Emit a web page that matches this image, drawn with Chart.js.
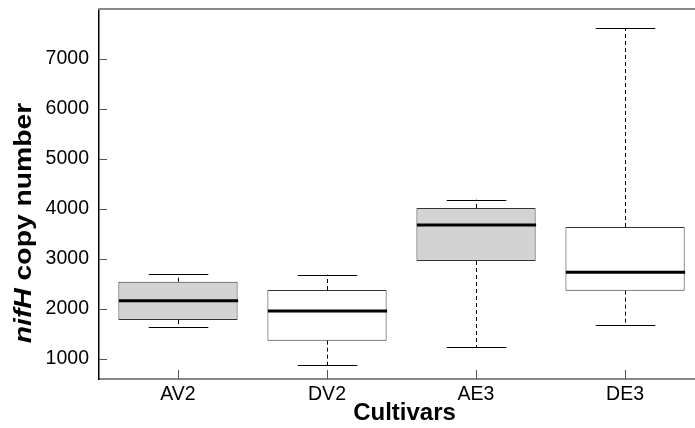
<!DOCTYPE html>
<html>
<head>
<meta charset="utf-8">
<script src="https://cdn.jsdelivr.net/npm/chart.js@4"></script>
<style>
  html, body { margin: 0; padding: 0; background: #fff; overflow: hidden; }
  #wrap { width: 695px; height: 428px; overflow: hidden; }
</style>
</head>
<body>
<div id="wrap"><canvas id="boxChart" width="710" height="428"></canvas></div>
<script>
// nifH copy number per cultivar (box plot summary)
const cultivars   = ['AV2', 'DV2', 'AE3', 'DE3'];
const whiskerLow  = [1634, 873, 1233, 1687];
const q1          = [1780, 1367, 2960, 2367];
const median      = [2166, 1960, 3680, 2733];
const q3          = [2546, 2380, 4020, 3640];
const whiskerHigh = [2694, 2687, 4187, 7614];
const boxFill     = ['#d3d3d3', '#ffffff', '#d3d3d3', '#ffffff'];
const yTicks      = [1000, 2000, 3000, 4000, 5000, 6000, 7000];

Chart.defaults.font.family = '"Liberation Sans", Arial, sans-serif';
Chart.defaults.color = '#000';

// whiskers, caps and medians drawn on top of the floating bars
const boxParts = {
  id: 'boxParts',
  afterDatasetsDraw(chart) {
    const { ctx, scales: { x, y } } = chart;
    const unit = x.getPixelForValue(2) - x.getPixelForValue(1);
    const capHalf = unit * 0.2;
    const boxHalf = unit * 0.4;
    ctx.save();
    ctx.strokeStyle = '#000';
    for (let i = 0; i < cultivars.length; i++) {
      const cx = Math.round(x.getPixelForValue(i + 1)) + 0.5;
      ctx.lineWidth = 1;
      ctx.setLineDash([4, 3]);
      ctx.beginPath();
      ctx.moveTo(cx, y.getPixelForValue(q3[i]));
      ctx.lineTo(cx, y.getPixelForValue(whiskerHigh[i]));
      ctx.moveTo(cx, y.getPixelForValue(q1[i]));
      ctx.lineTo(cx, y.getPixelForValue(whiskerLow[i]));
      ctx.stroke();

      ctx.setLineDash([]);
      ctx.beginPath();
      const hi = Math.round(y.getPixelForValue(whiskerHigh[i])) + 0.5;
      const lo = Math.round(y.getPixelForValue(whiskerLow[i])) + 0.5;
      ctx.moveTo(cx - capHalf, hi); ctx.lineTo(cx + capHalf, hi);
      ctx.moveTo(cx - capHalf, lo); ctx.lineTo(cx + capHalf, lo);
      ctx.stroke();

      ctx.lineWidth = 3;
      ctx.beginPath();
      const my = y.getPixelForValue(median[i]);
      ctx.moveTo(cx - boxHalf, my); ctx.lineTo(cx + boxHalf, my);
      ctx.stroke();
    }
    ctx.restore();
  }
};

// top frame line, inward tick marks and the mixed-style y title
const frame = {
  id: 'frame',
  afterDraw(chart) {
    const { ctx, chartArea: a, scales: { x, y } } = chart;
    ctx.save();
    ctx.strokeStyle = '#888';
    ctx.lineWidth = 2;
    ctx.beginPath();
    ctx.moveTo(a.left - 1, a.top);
    ctx.lineTo(a.right, a.top);
    ctx.stroke();

    ctx.strokeStyle = '#555';
    ctx.lineWidth = 1;
    ctx.beginPath();
    y.ticks.forEach(t => {
      const py = Math.round(y.getPixelForValue(t.value)) + 0.5;
      ctx.moveTo(a.left, py); ctx.lineTo(a.left + 8, py);
    });
    x.ticks.forEach(t => {
      const px = Math.round(x.getPixelForValue(t.value)) + 0.5;
      ctx.moveTo(px, a.bottom); ctx.lineTo(px, a.bottom - 9);
    });
    ctx.stroke();

    const fam = '"Liberation Sans", Arial, sans-serif';
    const partA = 'nifH', partB = ' copy number';
    ctx.translate(25, 223);
    ctx.rotate(-Math.PI / 2);
    ctx.scale(1.23, 1);
    ctx.fillStyle = '#000';
    ctx.textBaseline = 'middle';
    ctx.font = 'italic bold 23px ' + fam;
    const wA = ctx.measureText(partA).width;
    ctx.font = 'bold 23px ' + fam;
    const wB = ctx.measureText(partB).width;
    const sx = -(wA + wB) / 2;
    ctx.font = 'italic bold 23px ' + fam;
    ctx.fillText(partA, sx, 0);
    ctx.font = 'bold 23px ' + fam;
    ctx.fillText(partB, sx + wA, 0);
    ctx.restore();
  }
};

new Chart(document.getElementById('boxChart'), {
  type: 'bar',
  data: {
    datasets: [{
      data: cultivars.map((c, i) => ({ x: i + 1, y: [q1[i], q3[i]] })),
      backgroundColor: boxFill,
      borderColor: '#333',
      borderWidth: 1,
      borderSkipped: false,
      barPercentage: 0.8,
      categoryPercentage: 1
    }]
  },
  options: {
    responsive: false,
    animation: false,
    layout: { padding: { top: 9, left: 0, right: 0, bottom: 0 } },
    plugins: { legend: { display: false }, tooltip: { enabled: false } },
    scales: {
      x: {
        type: 'linear',
        offset: false,
        min: 0.47,
        max: 4.57,
        afterBuildTicks: s => { s.ticks = cultivars.map((c, i) => ({ value: i + 1 })); },
        afterFit: s => { s.height = 49; s.paddingLeft = 0; s.paddingRight = 0; },
        grid: { display: false, drawTicks: false, offset: false },
        border: { display: true, color: '#888', width: 2 },
        ticks: {
          font: { size: 19.5 },
          padding: 4,
          autoSkip: false,
          maxRotation: 0,
          callback: v => cultivars[v - 1]
        },
        title: {
          display: true,
          text: 'Cultivars',
          font: { size: 24, weight: 'bold' },
          padding: { top: -4, bottom: 0 }
        }
      },
      y: {
        min: 600,
        max: 8000,
        afterBuildTicks: s => { s.ticks = yTicks.map(v => ({ value: v })); },
        afterFit: s => { s.width = 99; s.paddingTop = 0; s.paddingBottom = 0; },
        grid: { display: false, drawTicks: false },
        border: { display: true, color: '#000', width: 1.5 },
        ticks: { font: { size: 19.5 }, padding: 10, callback: v => String(v) }
      }
    }
  },
  plugins: [boxParts, frame]
});
</script>
</body>
</html>
